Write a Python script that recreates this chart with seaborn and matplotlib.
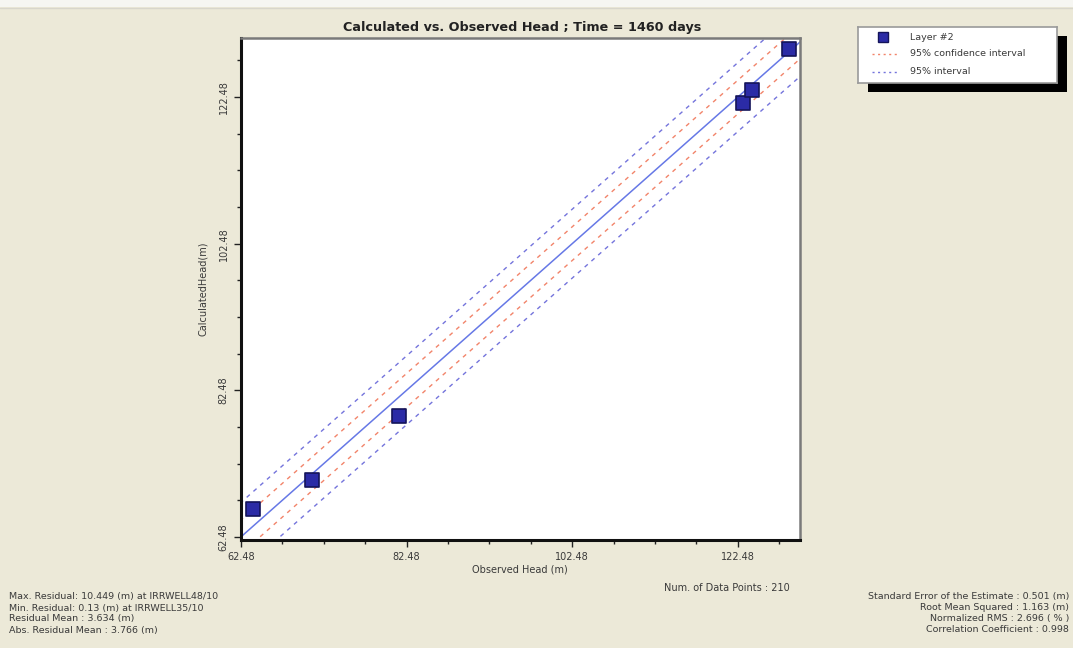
import matplotlib
matplotlib.use("Agg")
import matplotlib.pyplot as plt
import seaborn as sns
import numpy as np
import pandas as pd
from matplotlib.patches import Rectangle
from matplotlib.lines import Line2D
from matplotlib.ticker import FixedLocator

# ---------------- data ----------------
observed = [63.93, 71.05, 81.56, 123.14, 124.23, 128.70]
calculated = [66.30, 70.26, 78.99, 121.69, 123.46, 129.06]
series_name = "Layer #2"
conf_offset = 2.3      # 95% confidence interval half-width (m)
pred_offset = 4.7      # 95% interval half-width (m)
line_x = [55.0, 140.0]
major_ticks = [62.48, 82.48, 102.48, 122.48]
tick_labels = ["62.48", "82.48", "102.48", "122.48"]
minor_ticks = [67.48, 72.48, 77.48, 87.48, 92.48, 97.48, 107.48, 112.48, 117.48, 127.48]
x_range = (62.48, 130.0)
y_range = (62.05, 130.55)

title = "Calculated vs. Observed Head ; Time = 1460 days"
xlabel = "Observed Head (m)"
ylabel = "CalculatedHead(m)"
left_stats = ["Max. Residual: 10.449 (m) at IRRWELL48/10",
              "Min. Residual: 0.13 (m) at IRRWELL35/10",
              "Residual Mean : 3.634 (m)",
              "Abs. Residual Mean : 3.766 (m)"]
right_stats = ["Standard Error of the Estimate : 0.501 (m)",
               "Root Mean Squared : 1.163 (m)",
               "Normalized RMS : 2.696 ( % )",
               "Correlation Coefficient : 0.998"]
num_points = "Num. of Data Points : 210"
legend_labels = ["Layer #2", "95% confidence interval", "95% interval"]

# ---------------- style ----------------
sns.set_style("white")
plt.rcParams['font.family'] = ['DejaVu Sans']
bg = "#ECE9D8"
txt = "#3a3a3a"
c_point = "#2B2BA6"
c_edge = "#14145A"
c_solid = "#6678E6"
c_conf = "#F2846A"
c_pred = "#7474DC"

W, H = 1073, 648
fig = plt.figure(figsize=(W / 100, H / 100), dpi=100, facecolor=bg)

def fx(px):
    return px / W

def fy(py):
    return 1 - py / H

# white strip at very top
fig.patches.append(Rectangle((0, fy(7)), 1, 7 / H, transform=fig.transFigure,
                             facecolor="#F6F6F2", edgecolor="none", zorder=-2))
fig.lines.append(Line2D([0, 1], [fy(7.5), fy(7.5)], transform=fig.transFigure,
                        color="#D8D6CC", lw=1, zorder=-2))

ax = fig.add_axes([fx(241), fy(540), (800 - 241) / W, (540 - 38) / H])
ax.set_facecolor("white")

lx = np.array(line_x)
df_lines = pd.DataFrame({"x": lx, "mid": lx,
                         "cu": lx + conf_offset, "cl": lx - conf_offset,
                         "pu": lx + pred_offset, "pl": lx - pred_offset})

sns.lineplot(data=df_lines, x="x", y="mid", ax=ax, color=c_solid, lw=1.1)
for col in ["cu", "cl"]:
    sns.lineplot(data=df_lines, x="x", y=col, ax=ax, color=c_conf, lw=1.0,
                 linestyle=(0, (3, 3.5)))
for col in ["pu", "pl"]:
    sns.lineplot(data=df_lines, x="x", y=col, ax=ax, color=c_pred, lw=1.0,
                 linestyle=(0, (3, 3.5)))

df_pts = pd.DataFrame({"obs": observed, "calc": calculated})
sns.scatterplot(data=df_pts, x="obs", y="calc", ax=ax, marker="s", s=90,
                color=c_point, edgecolor=c_edge, linewidth=1.2, zorder=5,
                clip_on=False)

ax.set_xlim(*x_range)
ax.set_ylim(*y_range)
ax.set_xticks(major_ticks)
ax.set_xticklabels(tick_labels, fontsize=7, color=txt)
ax.set_yticks(major_ticks)
ax.set_yticklabels(tick_labels, fontsize=7, color=txt, rotation=90, va="center")
ax.xaxis.set_minor_locator(FixedLocator(minor_ticks))
ax.yaxis.set_minor_locator(FixedLocator(minor_ticks))
ax.tick_params(which="major", direction="out", length=5, width=1, color="#222222",
               pad=4, bottom=True, left=True)
ax.tick_params(which="minor", direction="out", length=3, width=1, color="#222222",
               bottom=True, left=True)
ax.set_xlabel("")
ax.set_ylabel("")
for s in ["left", "bottom"]:
    ax.spines[s].set_color("#111111")
    ax.spines[s].set_linewidth(2.2)
for s in ["top", "right"]:
    ax.spines[s].set_color("#7a7a7a")
    ax.spines[s].set_linewidth(1.8)

fig.text(fx(522), fy(27), title, ha="center", va="center", fontsize=9.2,
         fontweight="bold", color="#222222")
fig.text(fx(520), fy(569), xlabel, ha="center", va="center", fontsize=7, color=txt)
fig.text(fx(203), fy(289), ylabel, ha="center", va="center", fontsize=7,
         color=txt, rotation=90)
fig.text(fx(790), fy(588), num_points, ha="right", va="center", fontsize=7, color=txt)

ys = [597, 608, 619, 630]
for t, y in zip(left_stats, ys):
    fig.text(fx(9), fy(y), t, ha="left", va="center", fontsize=6.8, color=txt)
for t, y in zip(right_stats, ys):
    fig.text(fx(1069), fy(y), t, ha="right", va="center", fontsize=6.8, color=txt)

# ---------------- legend ----------------
lg_l, lg_t, lg_r, lg_b = 858, 27, 1057, 83
fig.patches.append(Rectangle((fx(lg_l + 10), fy(lg_b + 9)), (lg_r - lg_l) / W,
                             (lg_b - lg_t) / H, transform=fig.transFigure,
                             facecolor="black", edgecolor="none", zorder=-1))
lax = fig.add_axes([fx(lg_l), fy(lg_b), (lg_r - lg_l) / W, (lg_b - lg_t) / H],
                   zorder=1)
lax.set_facecolor("white")
lax.set_xlim(lg_l, lg_r)
lax.set_ylim(lg_b, lg_t)
lax.set_xticks([])
lax.set_yticks([])
for s in lax.spines.values():
    s.set_color("#9a9a9a")
    s.set_linewidth(1.2)
rows = [37, 54, 72]
lax.plot([883], [rows[0]], marker="s", ms=6.5, color=c_point, mec=c_edge, mew=1)
lax.plot([872, 897], [rows[1], rows[1]], color=c_conf, lw=1.0, linestyle=(0, (1.5, 2.5)))
lax.plot([872, 897], [rows[2], rows[2]], color=c_pred, lw=1.0, linestyle=(0, (1.5, 2.5)))
for lab, y in zip(legend_labels, rows):
    lax.text(910, y, lab, ha="left", va="center", fontsize=6.8, color=txt)

fig.savefig("out.png", dpi=100, facecolor=bg)
